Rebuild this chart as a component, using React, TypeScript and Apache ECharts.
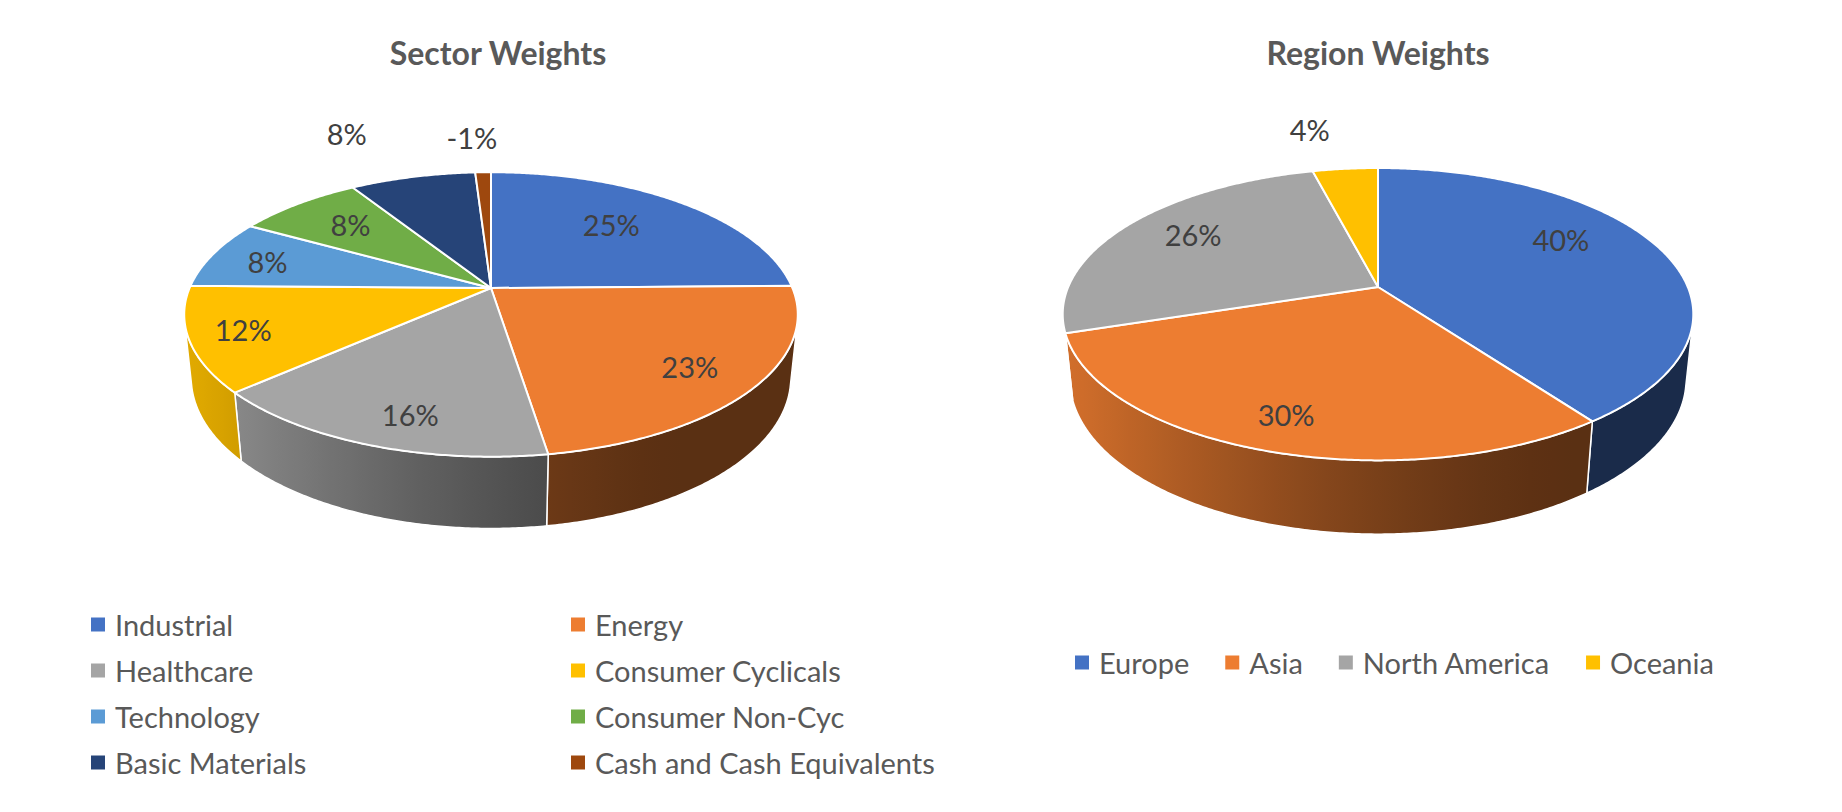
import { useEffect, useRef } from 'react';
import * as echarts from 'echarts';

const SECTORS = [
  'Industrial', 'Energy', 'Healthcare', 'Consumer Cyclicals',
  'Technology', 'Consumer Non-Cyc', 'Basic Materials', 'Cash and Cash Equivalents',
];
const SECTOR_WEIGHTS = [25, 23, 16, 12, 8, 8, 8, -1];
const SECTOR_COLORS = [
  '#4472C4', '#ED7D31', '#A5A5A5', '#FFC000',
  '#5B9BD5', '#70AD47', '#264478', '#9E480E',
];

const REGIONS = ['Europe', 'Asia', 'North America', 'Oceania'];
const REGION_WEIGHTS = [40, 30, 26, 4];
const REGION_COLORS = ['#4472C4', '#ED7D31', '#A5A5A5', '#FFC000'];

// where each data label sits: [share of the pie radius, shift from mid angle in degrees]
const SECTOR_LABEL_POS = [
  [0.645, -2.2], [0.8, 2.0], [0.836, -3.8], [0.834, -1.2],
  [0.785, -2.4], [0.7, -0.2], [1.515, -5.6], [1.347, -1.6],
];
const REGION_LABEL_POS = [[0.71, -10.0], [0.828, -0.2], [0.739, 1.5], [1.397, -4.2]];

const FONT = 'Lato, "Noto Sans", sans-serif';
const TEXT = '#595959';

// tilted pie seen in perspective (unit radius, camera distance, thickness)
const TILT = (27.1 * Math.PI) / 180;
const SIN_T = Math.sin(TILT);
const COS_T = Math.cos(TILT);
const DIST = 4.784;
const DEPTH = 0.238;
const WALL_FROM = Math.acos(-1 / (DIST * COS_T));
const WALL_TO = 2 * Math.PI - WALL_FROM;

interface Pie { cx: number; cy: number; f: number }
const SECTOR_PIE: Pie = { cx: 491, cy: 288, f: 1442 };
const REGION_PIE: Pie = { cx: 1378, cy: 287, f: 1482 };

function project(pie: Pie, r: number, a: number, h: number) {
  const x = r * Math.sin(a);
  const d = r * Math.cos(a);
  const z = -h * DEPTH;
  const yc = d * SIN_T + z * COS_T;
  const zc = DIST + d * COS_T - z * SIN_T;
  return [pie.cx + (pie.f * x) / zc, pie.cy - (pie.f * yc) / zc];
}

function shade(hex: string, k: number) {
  const n = parseInt(hex.slice(1), 16);
  const c = [(n >> 16) & 255, (n >> 8) & 255, n & 255].map(v => Math.round(v * k));
  return `rgb(${c[0]},${c[1]},${c[2]})`;
}

// lighter where the rim faces left, dark where it faces right
function wallShade(a: number) {
  const deg = Math.abs(270 - (a * 180) / Math.PI);
  const s = Math.min(1, Math.max(0, (deg - 20) / 105));
  return 0.88 - 0.5 * (3 * s * s - 2 * s * s * s);
}

function buildSeries(names: string[], weights: number[], colors: string[], labelPos: number[][], pie: Pie) {
  const total = weights.reduce((s, v) => s + Math.abs(v), 0);
  let acc = 0;
  return names.map((name, i) => {
    const a0 = (acc / total) * 2 * Math.PI;
    acc += Math.abs(weights[i]);
    const a1 = (acc / total) * 2 * Math.PI;
    const color = colors[i];
    return {
      type: 'custom' as const,
      name,
      coordinateSystem: 'none',
      silent: true,
      itemStyle: { color },
      data: [[weights[i]]],
      renderItem: (_params: unknown, api: any) => {
        const value = api.value(0);
        const children: any[] = [];
        const step = Math.PI / 360;

        const lo = Math.max(a0, WALL_FROM);
        const hi = Math.min(a1, WALL_TO);
        if (lo < hi) {
          const angles: number[] = [];
          for (let a = lo; a < hi; a += step) angles.push(a);
          angles.push(hi);
          const top = angles.map(a => project(pie, 1, a, 0));
          const bottom = angles.map(a => project(pie, 1, a, 1)).reverse();
          const pts = top.concat(bottom);
          const xs = pts.map(p => p[0]);
          const minX = Math.min(...xs);
          const maxX = Math.max(...xs);
          const stops = angles
            .filter((_, j) => j % 8 === 0 || j === angles.length - 1)
            .map(a => ({
              offset: Math.min(1, Math.max(0, (project(pie, 1, a, 0)[0] - minX) / (maxX - minX || 1))),
              color: shade(color, wallShade(a)),
            }))
            .sort((p, q) => p.offset - q.offset);
          children.push({
            type: 'polygon',
            z2: 1,
            shape: { points: pts },
            style: {
              fill: new echarts.graphic.LinearGradient(0, 0, 1, 0, stops),
              stroke: '#ffffff',
              lineWidth: 1.5,
              lineJoin: 'round',
            },
          });
        }

        const rim: number[][] = [[pie.cx, pie.cy]];
        for (let a = a0; a < a1; a += step) rim.push(project(pie, 1, a, 0));
        rim.push(project(pie, 1, a1, 0));
        children.push({
          type: 'polygon',
          z2: 5,
          shape: { points: rim },
          style: { fill: color, stroke: '#ffffff', lineWidth: 2, lineJoin: 'round' },
        });

        const [lr, shift] = labelPos[i];
        const mid = (a0 + a1) / 2 + (shift * Math.PI) / 180;
        const [lx, ly] = project(pie, lr, mid, 0);
        children.push({
          type: 'text',
          z2: 10,
          x: lx,
          y: ly - 3,
          style: {
            text: `${value}%`,
            fill: '#404040',
            fontSize: 29,
            fontFamily: FONT,
            align: 'center',
            verticalAlign: 'middle',
          },
        });
        return { type: 'group', children };
      },
    };
  });
}

export default function App() {
  const chartRef = useRef<HTMLDivElement>(null);

  useEffect(() => {
    if (!chartRef.current) return;
    const chart = echarts.init(chartRef.current, undefined, { renderer: 'svg' });

    const legendText = { color: TEXT, fontSize: 29, fontFamily: FONT, lineHeight: 29 };
    const titleText = { color: TEXT, fontSize: 32, fontWeight: 'bold', fontFamily: FONT };

    chart.setOption({
      animation: false,
      backgroundColor: '#ffffff',
      title: [
        { text: 'Sector Weights', left: 498, top: 36, textAlign: 'center', padding: 0, textStyle: titleText },
        { text: 'Region Weights', left: 1378, top: 36, textAlign: 'center', padding: 0, textStyle: titleText },
      ],
      legend: [
        {
          data: SECTORS,
          left: 91,
          top: 610,
          width: 960,
          padding: 0,
          icon: 'rect',
          itemWidth: 14,
          itemHeight: 14,
          itemGap: 17,
          selectedMode: false,
          textStyle: { ...legendText, width: 439, padding: [0, 0, 0, 5] },
        },
        {
          data: REGIONS,
          left: 1075,
          top: 648,
          padding: 0,
          icon: 'rect',
          itemWidth: 14,
          itemHeight: 14,
          itemGap: 36,
          selectedMode: false,
          textStyle: { ...legendText, padding: [0, 0, 0, 5] },
        },
      ],
      series: [
        ...buildSeries(SECTORS, SECTOR_WEIGHTS, SECTOR_COLORS, SECTOR_LABEL_POS, SECTOR_PIE),
        ...buildSeries(REGIONS, REGION_WEIGHTS, REGION_COLORS, REGION_LABEL_POS, REGION_PIE),
      ],
    });

    const handleResize = () => chart.resize();
    window.addEventListener('resize', handleResize);
    return () => {
      window.removeEventListener('resize', handleResize);
      chart.dispose();
    };
  }, []);

  return (
    <div
      ref={chartRef}
      style={{ position: 'fixed', left: 0, top: 0, width: 1842, height: 812 }}
    />
  );
}
